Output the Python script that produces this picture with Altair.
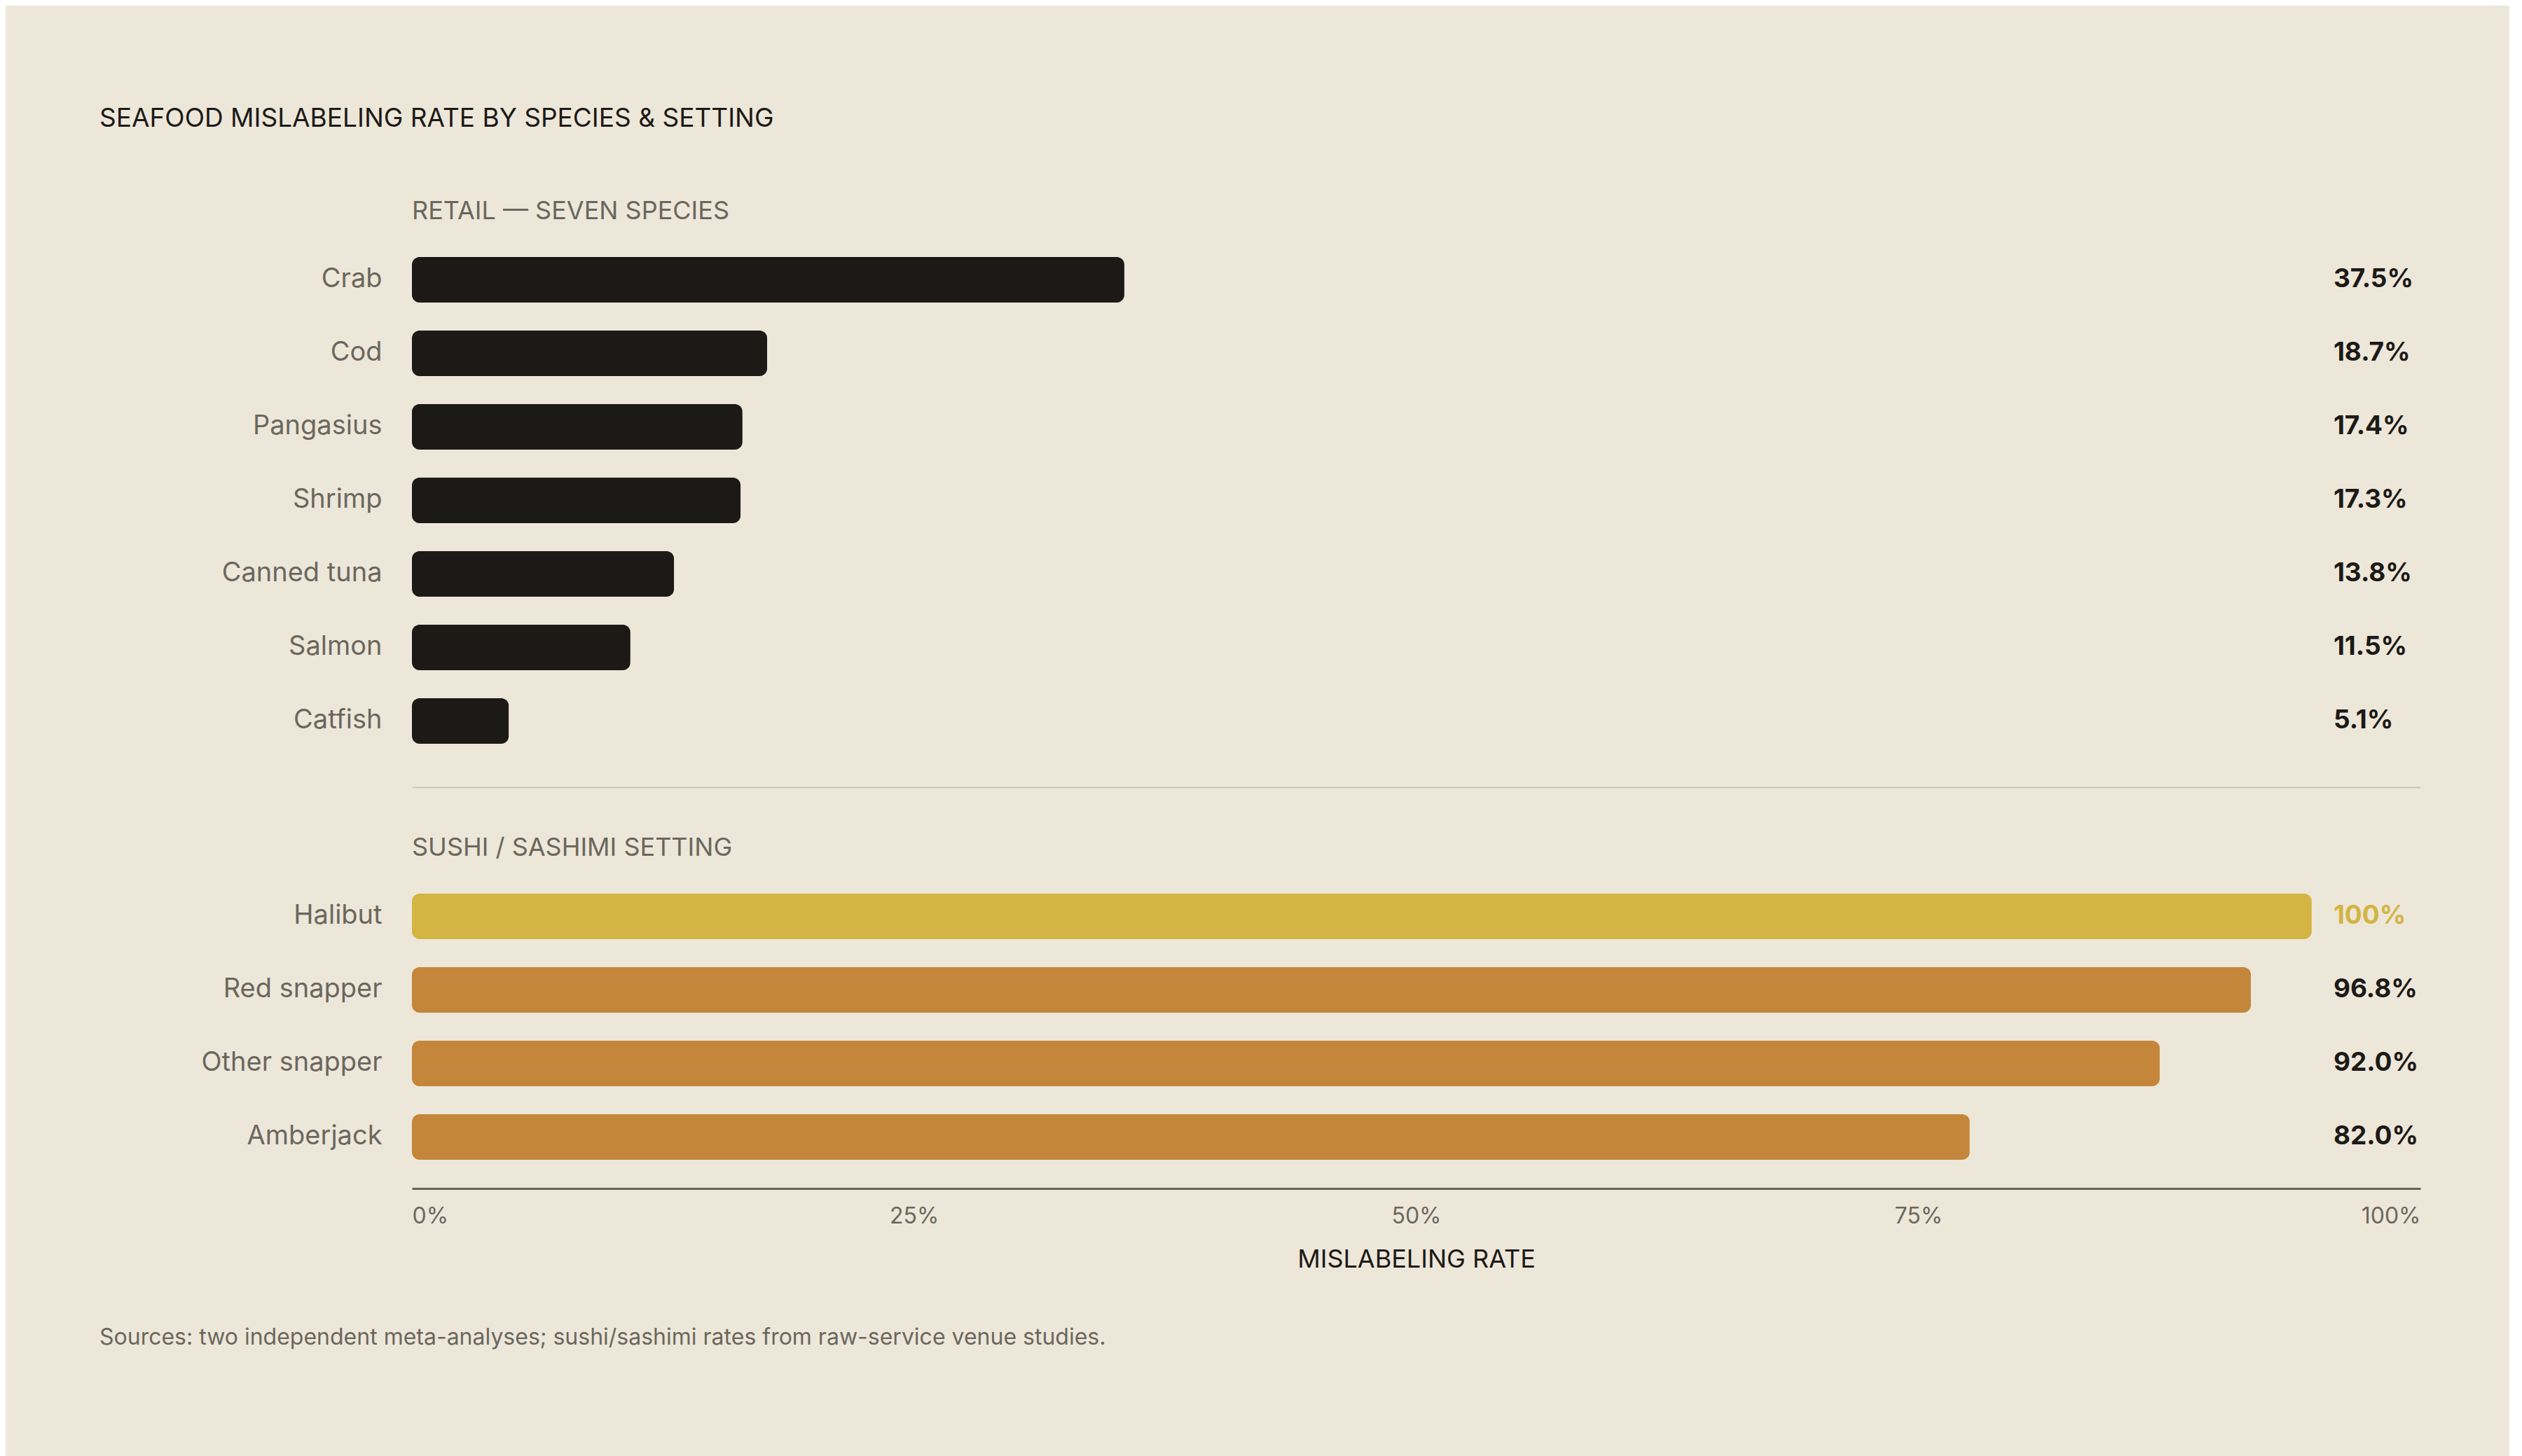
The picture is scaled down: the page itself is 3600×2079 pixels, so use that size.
import altair as alt
import pandas as pd

# ---- data ----
retail_species = ["Crab", "Cod", "Pangasius", "Shrimp", "Canned tuna", "Salmon", "Catfish"]
retail_rates = [37.5, 18.7, 17.4, 17.3, 13.8, 11.5, 5.1]
retail_tones = ["ink", "ink", "ink", "ink", "ink", "ink", "ink"]

sushi_species = ["Halibut", "Red snapper", "Other snapper", "Amberjack"]
sushi_rates = [100.0, 96.8, 92.0, 82.0]
sushi_tones = ["gold", "amber", "amber", "amber"]

axis_ticks = [0, 25, 50, 75, 100]

main_title = "SEAFOOD MISLABELING RATE BY SPECIES & SETTING"
retail_header = "RETAIL — SEVEN SPECIES"
sushi_header = "SUSHI / SASHIMI SETTING"
axis_title = "MISLABELING RATE"
source_note = "Sources: two independent meta-analyses; sushi/sashimi rates from raw-service venue studies."

# ---- style ----
INK = "#1c1a16"
GOLD = "#d4b442"
AMBER = "#c4863a"
BG = "#ede7da"
MUTED = "#6b675d"
RULE = "#cbc6b8"
AXISC = "#67645a"
FONT = "Inter"

PLOT_W = 2867
STEP = 105
BAR_DOMAIN = [0, 105.72]  # bars reach 100% a little before the end of the axis track


def fmt(v):
    return "100%" if v >= 100 else f"{v:.1f}%"


def frame(species, rates, tones):
    return pd.DataFrame({
        "species": species,
        "rate": rates,
        "tone": tones,
        "label_tone": ["gold" if t == "gold" else "ink" for t in tones],
        "label": [fmt(v) for v in rates],
    })


retail_df = frame(retail_species, retail_rates, retail_tones)
sushi_df = frame(sushi_species, sushi_rates, sushi_tones)
tick_df = pd.DataFrame({"tick": axis_ticks})
note_df = pd.DataFrame({"note": [source_note]})

color_scale = alt.Scale(domain=["ink", "gold", "amber"], range=[INK, GOLD, AMBER])


def header(text):
    return alt.TitleParams(text, anchor="start", frame="group", fontSize=36, color=MUTED,
                           font=FONT, fontWeight=400, offset=-10, baseline="bottom")


def bar_panel(df, x_axis):
    y = alt.Y("species:N", sort=list(df["species"]), title=None,
              scale=alt.Scale(paddingInner=0.381, paddingOuter=0.19),
              axis=alt.Axis(labelFont=FONT, labelFontSize=38, labelColor=MUTED, labelPadding=43,
                            labelLimit=1000, ticks=False, domain=False, grid=False,
                            minExtent=446, maxExtent=446))
    bars = alt.Chart(df).mark_bar(cornerRadius=11).encode(
        x=alt.X("rate:Q", scale=alt.Scale(domain=BAR_DOMAIN, nice=False), axis=x_axis),
        y=y,
        color=alt.Color("tone:N", scale=color_scale, legend=None),
    )
    labels = alt.Chart(df).mark_text(align="left", baseline="middle", dx=31, font=FONT,
                                     fontSize=37, fontWeight=700).encode(
        x=alt.datum(100),
        y=y,
        text="label:N",
        color=alt.Color("label_tone:N", scale=color_scale, legend=None),
    )
    return alt.layer(bars, labels)


retail = bar_panel(
    retail_df,
    alt.Axis(labels=False, ticks=False, title=None, grid=False, domainColor=RULE,
             domainWidth=2, offset=42),
).properties(width=PLOT_W, height=alt.Step(STEP), title=header(retail_header))

sushi_bars = bar_panel(sushi_df, None)

track_axis = alt.Chart(tick_df).mark_point(opacity=0).encode(
    x=alt.X("tick:Q", scale=alt.Scale(domain=[0, 100], nice=False),
            axis=alt.Axis(values=axis_ticks, labelExpr="datum.value + '%'", orient="bottom",
                          offset=21, ticks=False, grid=False, domainColor=AXISC, domainWidth=3,
                          labelFlush=True, labelFont=FONT, labelFontSize=32, labelColor=MUTED,
                          labelPadding=25, title=axis_title, titleFont=FONT, titleFontSize=36,
                          titleColor=INK, titleFontWeight=400, titlePadding=29)),
)

note = alt.Chart(note_df).mark_text(align="left", baseline="alphabetic", font=FONT,
                                    fontSize=32, color=MUTED).encode(
    x=alt.value(-446), y=alt.value(663.5), text="note:N")

sushi = alt.layer(sushi_bars, track_axis, note).resolve_scale(x="independent").properties(
    width=PLOT_W, height=alt.Step(STEP), title=header(sushi_header))

chart = alt.vconcat(retail, sushi, spacing=69).properties(
    title=alt.TitleParams(main_title, anchor="start", frame="bounds", offset=58, fontSize=37,
                          color=INK, font=FONT, fontWeight=400, baseline="bottom"),
    padding={"left": 134, "top": 143, "right": 124, "bottom": 222},
    background=BG,
).configure_view(strokeWidth=0)

chart.save("out.html", embed_options={"renderer": "svg", "actions": False})
